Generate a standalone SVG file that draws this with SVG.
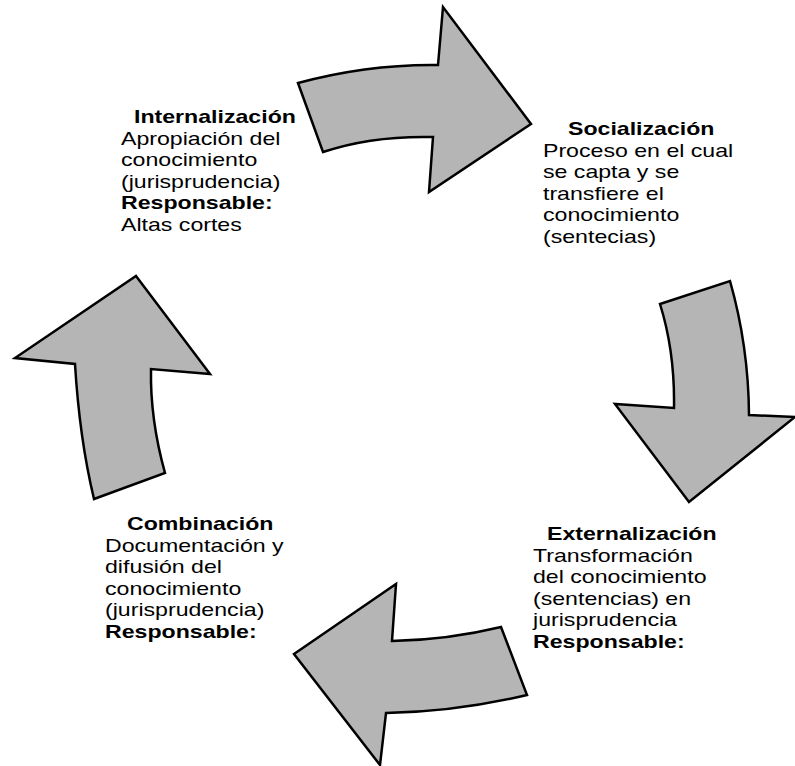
<svg xmlns="http://www.w3.org/2000/svg" width="795" height="766" viewBox="0 0 795 766">
<style>
.arr{fill:#b5b5b5;stroke:#000;stroke-width:2.5;stroke-linejoin:miter}
text{font-family:"Liberation Sans",Arial,sans-serif;font-size:18.5px;fill:#000}
.b{font-weight:bold}
</style>
<rect width="795" height="766" fill="#fff"/>
<g id="connectors">
<path class="arr" d="M298,83 Q368,64 438,65 L443,7 L531,124 L429,192 L433,137 Q372,135.5 323,152 Z"/>
<path class="arr" d="M660,304 L730,281 Q748.5,346 749,415 L795,417 L689,502 L615,404 L674,408 Q675,352 660,304 Z"/>
<path class="arr" d="M392,641 Q447.5,640 501,627 L527,695 Q455.5,712 386,713 L380,765 L294,654 L396,584 Z"/>
<path class="arr" d="M136,276 L210,374 L151,369 Q150,419 165,473 L94,499 Q79.5,438.5 75,364 L15,358 Z"/>
</g>
<g id="internalizacion" transform="translate(121,0) scale(1.25,1)">
<text class="b" x="10.4" y="123">Internalización</text>
<text x="0" y="145">Apropiación del</text>
<text x="0" y="166.5">conocimiento</text>
<text x="0" y="188">(jurisprudencia)</text>
<text class="b" x="0" y="209.5">Responsable:</text>
<text x="0" y="231">Altas cortes</text>
</g>
<g id="socializacion" transform="translate(543,0) scale(1.25,1)">
<text class="b" x="20" y="135">Socialización</text>
<text x="0" y="157">Proceso en el cual</text>
<text x="0" y="178.5">se capta y se</text>
<text x="0" y="200">transfiere el</text>
<text x="0" y="221.5">conocimiento</text>
<text x="0" y="243">(sentecias)</text>
</g>
<g id="externalizacion" transform="translate(533,0) scale(1.25,1)">
<text class="b" x="11.2" y="540">Externalización</text>
<text x="0" y="562">Transformación</text>
<text x="0" y="583.5">del conocimiento</text>
<text x="0" y="605">(sentencias) en</text>
<text x="0" y="626.5">jurisprudencia</text>
<text class="b" x="0" y="648">Responsable:</text>
</g>
<g id="combinacion" transform="translate(105,0) scale(1.25,1)">
<text class="b" x="17.6" y="530">Combinación</text>
<text x="0" y="552">Documentación y</text>
<text x="0" y="573.5">difusión del</text>
<text x="0" y="595">conocimiento</text>
<text x="0" y="616.5">(jurisprudencia)</text>
<text class="b" x="0" y="638">Responsable:</text>
</g>
</svg>
